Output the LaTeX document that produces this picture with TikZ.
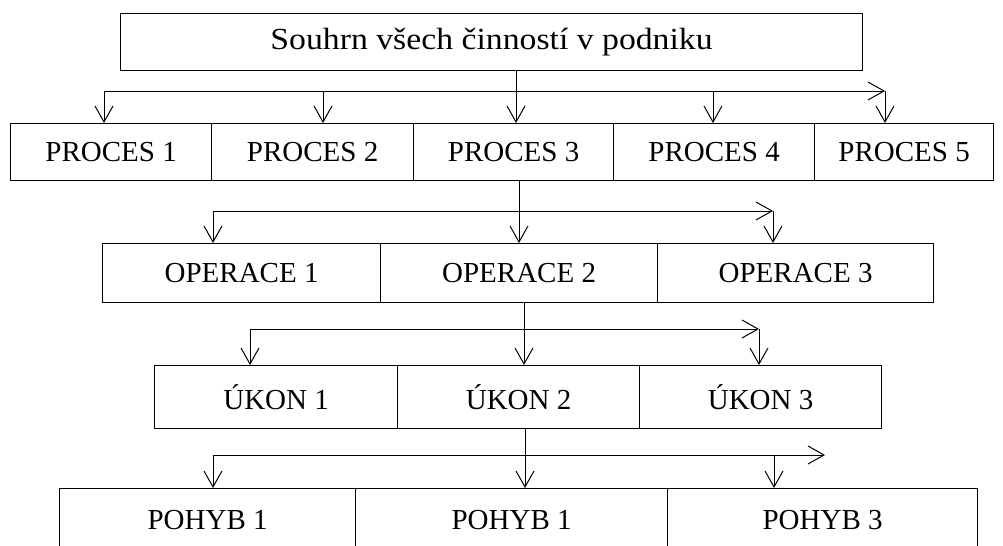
\documentclass[tikz,border=0pt]{standalone}
\usepackage{fontspec}
\setmainfont{Liberation Serif}
\newfontfamily\titlefont[FakeStretch=1.1]{Liberation Serif}
\usetikzlibrary{arrows.meta}
\begin{document}
\begin{tikzpicture}[x=0.75pt,y=-0.75pt,
  box/.style={draw, line width=0.9pt, inner sep=0pt, anchor=north west,
    font=\fontsize{21.75pt}{26pt}\selectfont},
  cell/.style 2 args={box, minimum width=#1*0.75pt, minimum height=#2*0.75pt},
  link/.style={line width=0.75pt},
  flow/.style={link, -{Straight Barb[length=12pt,width=13.5pt,line width=0.75pt]}},
]
\useasboundingbox (0,0) rectangle (1003,546);
\clip (0,0) rectangle (1003,546);

% level 0
\node[cell={742}{57}, font=\titlefont\fontsize{23pt}{27pt}\selectfont] (top) at (120,13)
  {Souhrn všech činností v podniku};

% level 1: processes
\node[cell={201}{57}] (p1) at (10,123)  {PROCES 1};
\node[cell={202}{57}] (p2) at (211,123) {PROCES 2};
\node[cell={200}{57}] (p3) at (413,123) {PROCES 3};
\node[cell={201}{57}] (p4) at (613,123) {PROCES 4};
\node[cell={179}{57}] (p5) at (814,123) {PROCES 5};

% level 2: operations
\node[cell={278}{59}] (o1) at (102,243) {OPERACE 1};
\node[cell={277}{59}] (o2) at (380,243) {OPERACE 2};
\node[cell={276}{59}] (o3) at (657,243) {OPERACE 3};

% level 3: tasks
\node[cell={243}{63}] (u1) at (154,365) {ÚKON 1};
\node[cell={242}{63}] (u2) at (397,365) {ÚKON 2};
\node[cell={242}{63}] (u3) at (639,365) {ÚKON 3};

% level 4: movements (open at the bottom)
\node[cell={296}{62}] (h1) at (59,488)  {POHYB 1};
\node[cell={312}{62}] (h2) at (355,488) {POHYB 1};
\node[cell={310}{62}] (h3) at (667,488) {POHYB 3};

% distribution bar 0 -> 1
\coordinate (t1) at (516,91);
\coordinate (a1L) at (104,91);
\coordinate (a1R) at (885,91);
\coordinate (a12) at (323,91);
\coordinate (a14) at (713,91);
\draw[link] (top.south -| t1) -- (t1);
\draw[flow] (a1L) -- (a1R);
\draw[flow] (a1L) -- (a1L |- p1.north);
\draw[flow] (a12) -- (a12 |- p2.north);
\draw[flow] (t1) -- (t1 |- p3.north);
\draw[flow] (a14) -- (a14 |- p4.north);
\draw[flow] (a1R) -- (a1R |- p5.north);

% distribution bar 1 -> 2
\coordinate (t2) at (519,211);
\coordinate (a2L) at (213,211);
\coordinate (a2R) at (773,211);
\draw[link] (p3.south -| t2) -- (t2);
\draw[flow] (a2L) -- (a2R);
\draw[flow] (a2L) -- (a2L |- o1.north);
\draw[flow] (t2) -- (t2 |- o2.north);
\draw[flow] (a2R) -- (a2R |- o3.north);

% distribution bar 2 -> 3
\coordinate (t3) at (524,329);
\coordinate (a3L) at (250,329);
\coordinate (a3R) at (759,329);
\draw[link] (o2.south -| t3) -- (t3);
\draw[flow] (a3L) -- (a3R);
\draw[flow] (a3L) -- (a3L |- u1.north);
\draw[flow] (t3) -- (t3 |- u2.north);
\draw[flow] (a3R) -- (a3R |- u3.north);

% distribution bar 3 -> 4
\coordinate (t4) at (525,455);
\coordinate (a4L) at (213,455);
\coordinate (a4R) at (825,455);
\coordinate (a43) at (774,455);
\draw[flow] (u2.south -| t4) -- (t4 |- h2.north);
\draw[flow] (a4L) -- (a4R);
\draw[flow] (a4L) -- (a4L |- h1.north);
\draw[flow] (a43) -- (a43 |- h3.north);
\end{tikzpicture}
\end{document}
